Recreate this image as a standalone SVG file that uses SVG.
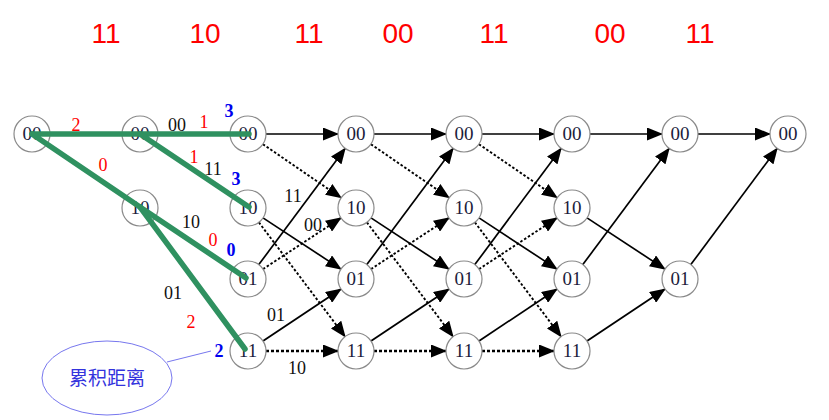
<svg xmlns="http://www.w3.org/2000/svg" width="829" height="420" viewBox="0 0 829 420">
<style>
.node circle{fill:#fff;stroke:#8a8a8a;stroke-width:1.2}
.node text{font-family:"Liberation Serif",serif;font-size:19px;fill:#1c1c3c;text-anchor:middle}
.s{stroke:#000;stroke-width:1.7;fill:none;marker-end:url(#ah)}
.d{stroke:#000;stroke-width:1.9;stroke-dasharray:2.5 2;fill:none;marker-end:url(#ah)}
.dt{stroke:#000;stroke-width:2.7;stroke-dasharray:3 2;fill:none;marker-end:url(#ah)}
.g{stroke:#2f9160;stroke-width:5.5;stroke-linecap:round;fill:none}
.top{font-family:"Liberation Sans",Arial,sans-serif;font-size:28px;fill:#ff0000;text-anchor:middle}
.lb{font-family:"Liberation Serif",serif;font-size:18px;text-anchor:middle;fill:#111}
.r{fill:#ff0000}
.b{fill:#0000ee;font-weight:bold}
</style>
<defs>
<marker id="ah" viewBox="0 0 16 13" refX="15" refY="6.5" markerWidth="16" markerHeight="13" markerUnits="userSpaceOnUse" orient="auto">
<path d="M0,0 L16,6.5 L0,13 z" fill="#000"/>
</marker>
</defs>
<rect width="829" height="420" fill="#fff"/>
<g id="input-bits">
<text class="top" x="106" y="43">11</text>
<text class="top" x="205" y="43">10</text>
<text class="top" x="309" y="43">11</text>
<text class="top" x="398" y="43">00</text>
<text class="top" x="494" y="43">11</text>
<text class="top" x="610" y="43">00</text>
<text class="top" x="700" y="43">11</text>
</g>
<g id="connectors">
<line class="s" x1="266" y1="134" x2="338" y2="134"/>
<line class="d" x1="262.9" y1="144.2" x2="341.1" y2="197.8"/>
<line class="s" x1="263" y1="217.9" x2="341" y2="269.1"/>
<line class="d" x1="258.9" y1="222.4" x2="345.1" y2="336.6"/>
<line class="s" x1="258.8" y1="264.6" x2="345.2" y2="148.4"/>
<line class="d" x1="263" y1="269.1" x2="341" y2="217.9"/>
<line class="s" x1="263" y1="341" x2="341" y2="289"/>
<line class="dt" x1="266" y1="351" x2="338" y2="351"/>
<line class="s" x1="374" y1="134" x2="446" y2="134"/>
<line class="d" x1="370.9" y1="144.2" x2="449.1" y2="197.8"/>
<line class="s" x1="371" y1="217.9" x2="449" y2="269.1"/>
<line class="d" x1="366.9" y1="222.4" x2="453.1" y2="336.6"/>
<line class="s" x1="366.8" y1="264.6" x2="453.2" y2="148.4"/>
<line class="d" x1="371" y1="269.1" x2="449" y2="217.9"/>
<line class="s" x1="371" y1="341" x2="449" y2="289"/>
<line class="dt" x1="374" y1="351" x2="446" y2="351"/>
<line class="s" x1="482" y1="134" x2="554" y2="134"/>
<line class="d" x1="478.9" y1="144.2" x2="557.1" y2="197.8"/>
<line class="s" x1="479" y1="217.9" x2="557" y2="269.1"/>
<line class="d" x1="474.9" y1="222.4" x2="561.1" y2="336.6"/>
<line class="s" x1="474.8" y1="264.6" x2="561.2" y2="148.4"/>
<line class="d" x1="479" y1="269.1" x2="557" y2="217.9"/>
<line class="s" x1="479" y1="341" x2="557" y2="289"/>
<line class="dt" x1="482" y1="351" x2="554" y2="351"/>
<line class="s" x1="590" y1="134" x2="662" y2="134"/>
<line class="s" x1="587" y1="217.9" x2="665" y2="269.1"/>
<line class="s" x1="582.8" y1="264.6" x2="669.2" y2="148.4"/>
<line class="s" x1="587" y1="341" x2="665" y2="289"/>
<line class="s" x1="698" y1="134" x2="770" y2="134"/>
<line class="s" x1="690.8" y1="264.6" x2="777.2" y2="148.4"/>
</g>
<g id="n1-00" class="node"><circle cx="32" cy="134" r="18"/><text x="32" y="140">00</text></g>
<g id="n2-00" class="node"><circle cx="140" cy="134" r="18"/><text x="140" y="140">00</text></g>
<g id="n2-10" class="node"><circle cx="140" cy="208" r="18"/><text x="140" y="214">10</text></g>
<g id="n3-00" class="node"><circle cx="248" cy="134" r="18"/><text x="248" y="140">00</text></g>
<g id="n3-10" class="node"><circle cx="248" cy="208" r="18"/><text x="248" y="214">10</text></g>
<g id="n3-01" class="node"><circle cx="248" cy="279" r="18"/><text x="248" y="285">01</text></g>
<g id="n3-11" class="node"><circle cx="248" cy="351" r="18"/><text x="248" y="357">11</text></g>
<g id="n4-00" class="node"><circle cx="356" cy="134" r="18"/><text x="356" y="140">00</text></g>
<g id="n4-10" class="node"><circle cx="356" cy="208" r="18"/><text x="356" y="214">10</text></g>
<g id="n4-01" class="node"><circle cx="356" cy="279" r="18"/><text x="356" y="285">01</text></g>
<g id="n4-11" class="node"><circle cx="356" cy="351" r="18"/><text x="356" y="357">11</text></g>
<g id="n5-00" class="node"><circle cx="464" cy="134" r="18"/><text x="464" y="140">00</text></g>
<g id="n5-10" class="node"><circle cx="464" cy="208" r="18"/><text x="464" y="214">10</text></g>
<g id="n5-01" class="node"><circle cx="464" cy="279" r="18"/><text x="464" y="285">01</text></g>
<g id="n5-11" class="node"><circle cx="464" cy="351" r="18"/><text x="464" y="357">11</text></g>
<g id="n6-00" class="node"><circle cx="572" cy="134" r="18"/><text x="572" y="140">00</text></g>
<g id="n6-10" class="node"><circle cx="572" cy="208" r="18"/><text x="572" y="214">10</text></g>
<g id="n6-01" class="node"><circle cx="572" cy="279" r="18"/><text x="572" y="285">01</text></g>
<g id="n6-11" class="node"><circle cx="572" cy="351" r="18"/><text x="572" y="357">11</text></g>
<g id="n7-00" class="node"><circle cx="680" cy="134" r="18"/><text x="680" y="140">00</text></g>
<g id="n7-01" class="node"><circle cx="680" cy="279" r="18"/><text x="680" y="285">01</text></g>
<g id="n8-00" class="node"><circle cx="788" cy="134" r="18"/><text x="788" y="140">00</text></g>
<g id="survivor-paths">
<line class="g" x1="32" y1="134" x2="249" y2="134"/>
<polyline class="g" points="32,134 140,207 246,278"/>
<line class="g" x1="140" y1="134" x2="249" y2="207"/>
<line class="g" x1="140" y1="207" x2="245" y2="349"/>
</g>
<g id="labels">
<text class="lb r" x="76" y="131">2</text>
<text class="lb" x="177" y="131">00</text>
<text class="lb r" x="204" y="128">1</text>
<text class="lb b" x="229" y="117">3</text>
<text class="lb r" x="103" y="171">0</text>
<text class="lb r" x="194" y="163">1</text>
<text class="lb" x="213" y="175">11</text>
<text class="lb b" x="236" y="185">3</text>
<text class="lb" x="191" y="228">10</text>
<text class="lb r" x="213" y="246">0</text>
<text class="lb b" x="231" y="256">0</text>
<text class="lb" x="173" y="299">01</text>
<text class="lb r" x="191" y="328">2</text>
<text class="lb b" x="219" y="357">2</text>
<text class="lb" x="276" y="321">01</text>
<text class="lb" x="297" y="374">10</text>
<text class="lb" x="293" y="202">11</text>
<text class="lb" x="313" y="231">00</text>
</g>
<g id="callout">
<line x1="167" y1="362" x2="211" y2="351" stroke="#7777ee" stroke-width="1"/>
<ellipse cx="107" cy="378" rx="65" ry="37" fill="#fff" stroke="#7777ee" stroke-width="1"/>
<text x="107" y="385" font-family="'Liberation Serif','Noto Sans CJK SC',serif" font-size="19" fill="#3333dd" text-anchor="middle">累积距离</text>
</g>
</svg>
